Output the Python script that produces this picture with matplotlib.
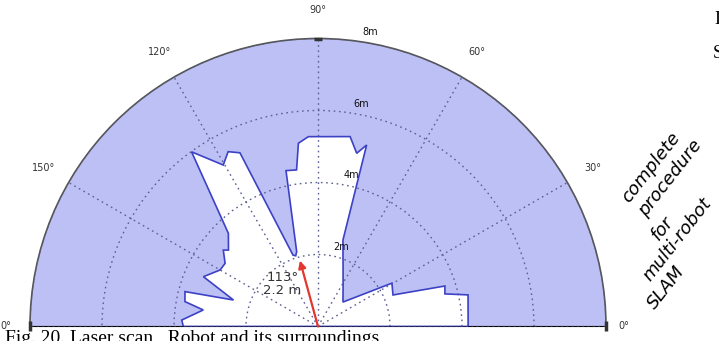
import numpy as np
import matplotlib.pyplot as plt

# laser scan outline (bearing in degrees, range in metres)
scan_deg = [0, 11.9, 14.4, 17.7, 22.8, 30.4, 44.4, 58.9, 66.1, 70.7, 73.9, 75.0, 77.4, 80.4,
            92.9, 96.1, 97.8, 101.6, 105.9, 107.5, 109.3, 114.2, 117.2, 120.4, 125.9, 133.9,
            139.5, 141.1, 145.8, 150.0, 156.5, 162.6, 165.3, 169.4, 171.8, 177.3, 180]
scan_m = [4.17, 4.26, 3.64, 3.70, 2.26, 2.38, 0.97, 1.35, 1.72, 2.10, 2.50, 5.22, 4.93, 5.35,
          5.28, 5.12, 4.39, 4.42, 2.16, 2.06, 2.10, 5.29, 5.46, 5.20, 5.99, 3.59,
          3.27, 3.38, 3.12, 3.14, 3.47, 2.46, 3.82, 3.76, 3.22, 3.79, 3.74]

# nearest obstacle marker
arrow_deg = 105.3
arrow_m = 1.9
nearest_label = ['113°', '2.2 m']

angle_ticks = [0, 30, 60, 90, 120, 150, 180]
angle_labels = ['0°', '30°', '60°', '90°', '120°', '150°', '0°']
range_ticks = [2, 4, 6, 8]
range_labels = ['2m', '4m', '6m', '8m']
r_max = 8

note_lines = ['complete', 'procedure', 'for', 'multi-robot', 'SLAM']

blue_fill = '#bcc0f4'
blue_edge = '#3c41c6'

fig = plt.figure(figsize=(7.19, 3.41), dpi=100)
# polar axes keeps a square box, the half disc sits in its middle
ax = fig.add_axes([30 / 719, (341 - 470.5) / 341, 576 / 719, 576 / 341], projection='polar')
ax.set_thetamin(0)
ax.set_thetamax(180)
ax.set_rlim(0, r_max)
ax.set_facecolor(blue_fill)

theta = np.radians([0] + scan_deg + [180])
r = np.array([0] + scan_m + [0])

# free space in white, outline on top of the grid
ax.fill(theta, r, facecolor='white', edgecolor='none', zorder=1)
ax.fill(theta, r, facecolor='none', edgecolor=blue_edge, linewidth=1.2, zorder=3)

ax.set_axisbelow(False)
ax.grid(True, color='#5c6092', linestyle=(0, (1.2, 2.6)), linewidth=1.0)
ax.set_xticks(np.radians(angle_ticks))
ax.set_xticklabels([])
ax.set_yticks(range_ticks)
ax.set_yticklabels([])
ax.tick_params(length=0)

# angle labels just outside the rim
for deg, lab in zip(angle_ticks, angle_labels):
    rr = 8.8
    if deg == 0:
        rr = 8.5
    elif deg == 180:
        rr = 8.68
    ax.text(np.radians(deg), rr, lab, ha='center', va='center', fontsize=7, color='#333333')

# range labels next to each ring
range_label_deg = [73.5, 77.4, 78.9, 79.9]
for deg, rv, lab in zip(range_label_deg, range_ticks, range_labels):
    ax.text(np.radians(deg), rv + 0.3, lab, ha='center', va='center', fontsize=7, color='#111111')

ax.spines['polar'].set_color('#555555')
ax.spines['polar'].set_linewidth(1.2)
ax.spines['start'].set_visible(False)
ax.spines['end'].set_visible(False)

# little dark marks at the ends of the scale
ax.plot(np.radians([0, 180]), [r_max, r_max], ls='none', marker='|', ms=7, mew=2.5,
        color='#333333', clip_on=False, zorder=4)
ax.plot([np.pi / 2], [r_max], ls='none', marker='_', ms=6, mew=2.5,
        color='#333333', clip_on=False, zorder=4)

ax.annotate('', xy=(np.radians(arrow_deg), arrow_m), xytext=(0, 0),
            arrowprops=dict(arrowstyle='-|>', color='#e2372e', lw=1.6, mutation_scale=11,
                            shrinkA=0, shrinkB=0), zorder=5)
ax.text(np.radians(130), 1.55, '\n'.join(nearest_label), ha='center', va='center',
        fontsize=9.5, color='#333333', linespacing=1.05, zorder=5)

# handwritten note on the right
note_pos = [(651, 167), (670, 178), (662, 228), (677, 239), (666, 288)]
for txt, (px, py) in zip(note_lines, note_pos):
    fig.text(px / 719, 1 - py / 341, txt, rotation=52, ha='center', va='center',
             rotation_mode='anchor', fontsize=13, fontstyle='italic', color='black')

# bits of the surrounding page
fig.text(714 / 719, 1 - 20 / 341, 'I', family='Liberation Serif', fontsize=13, va='center')
fig.text(713 / 719, 1 - 54 / 341, 'S', family='Liberation Serif', fontsize=13, va='center')
fig.text(5 / 719, -0.006, 'Fig. 20. Laser scan   Robot and its surroundings',
         family='Liberation Serif', fontsize=14, va='baseline')

plt.savefig('out.png', dpi=100)
